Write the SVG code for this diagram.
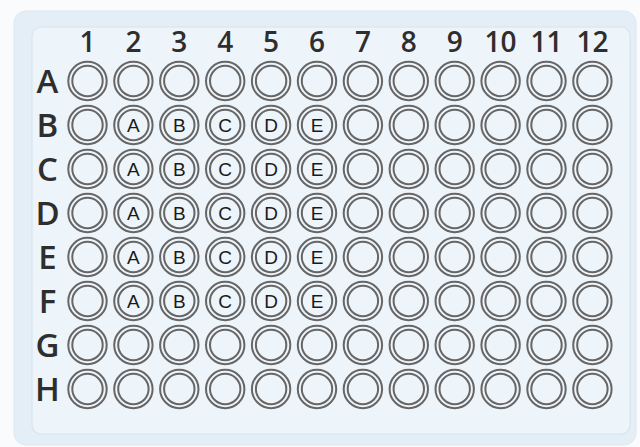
<svg xmlns="http://www.w3.org/2000/svg" width="640" height="447" viewBox="0 0 640 447">
<style>
.bg{fill:#fafbfc}
.outer{fill:#e4eef7;stroke:#dde8f1;stroke-width:1}
.inner{fill:#edf4fa;stroke:#d8e4ee;stroke-width:1.2}
.ring{fill:none;stroke:#666;stroke-width:2}
.col{font-family:"Open Sans","Noto Sans",sans-serif;font-weight:600;font-size:28px;fill:#2e2e2e;text-anchor:middle}
.row{font-family:"Open Sans","Noto Sans",sans-serif;font-weight:600;font-size:33px;fill:#2e2e2e;text-anchor:middle}
.lbl{font-family:"Liberation Sans","Noto Sans",sans-serif;font-size:19px;fill:#1a1a1a;text-anchor:middle}
</style>
<defs>
<g id="well"><circle r="19.2" class="ring"/><circle r="15.2" class="ring"/></g>
</defs>
<rect class="bg" x="0" y="0" width="640" height="447"/>
<rect class="outer" x="14" y="11" width="622" height="434" rx="12"/>
<rect class="inner" x="32" y="27" width="598" height="407" rx="9"/>
<g id="col-labels">
<text class="col" x="87.5" y="52">1</text>
<text class="col" x="133.4" y="52">2</text>
<text class="col" x="179.3" y="52">3</text>
<text class="col" x="225.2" y="52">4</text>
<text class="col" x="271.1" y="52">5</text>
<text class="col" x="317" y="52">6</text>
<text class="col" x="362.9" y="52">7</text>
<text class="col" x="408.8" y="52">8</text>
<text class="col" x="454.7" y="52">9</text>
<text class="col" x="500.6" y="52">10</text>
<text class="col" x="546.5" y="52">11</text>
<text class="col" x="592.4" y="52">12</text>
</g>
<g id="row-labels">
<text class="row" x="47.5" y="92.5">A</text>
<text class="row" x="47.5" y="136.5">B</text>
<text class="row" x="47.5" y="180.5">C</text>
<text class="row" x="47.5" y="224.5">D</text>
<text class="row" x="47.5" y="268.5">E</text>
<text class="row" x="47.5" y="312.5">F</text>
<text class="row" x="47.5" y="356.5">G</text>
<text class="row" x="47.5" y="400.5">H</text>
</g>
<g id="wells">
<g id="row-A">
<use href="#well" x="87.5" y="81"/><use href="#well" x="133.4" y="81"/><use href="#well" x="179.3" y="81"/><use href="#well" x="225.2" y="81"/><use href="#well" x="271.1" y="81"/><use href="#well" x="317" y="81"/><use href="#well" x="362.9" y="81"/><use href="#well" x="408.8" y="81"/><use href="#well" x="454.7" y="81"/><use href="#well" x="500.6" y="81"/><use href="#well" x="546.5" y="81"/><use href="#well" x="592.4" y="81"/>
</g>
<g id="row-B">
<use href="#well" x="87.5" y="125"/><use href="#well" x="133.4" y="125"/><use href="#well" x="179.3" y="125"/><use href="#well" x="225.2" y="125"/><use href="#well" x="271.1" y="125"/><use href="#well" x="317" y="125"/><use href="#well" x="362.9" y="125"/><use href="#well" x="408.8" y="125"/><use href="#well" x="454.7" y="125"/><use href="#well" x="500.6" y="125"/><use href="#well" x="546.5" y="125"/><use href="#well" x="592.4" y="125"/>
<text class="lbl" x="133.4" y="131.8">A</text><text class="lbl" x="179.3" y="131.8">B</text><text class="lbl" x="225.2" y="131.8">C</text><text class="lbl" x="271.1" y="131.8">D</text><text class="lbl" x="317" y="131.8">E</text>
</g>
<g id="row-C">
<use href="#well" x="87.5" y="169"/><use href="#well" x="133.4" y="169"/><use href="#well" x="179.3" y="169"/><use href="#well" x="225.2" y="169"/><use href="#well" x="271.1" y="169"/><use href="#well" x="317" y="169"/><use href="#well" x="362.9" y="169"/><use href="#well" x="408.8" y="169"/><use href="#well" x="454.7" y="169"/><use href="#well" x="500.6" y="169"/><use href="#well" x="546.5" y="169"/><use href="#well" x="592.4" y="169"/>
<text class="lbl" x="133.4" y="175.8">A</text><text class="lbl" x="179.3" y="175.8">B</text><text class="lbl" x="225.2" y="175.8">C</text><text class="lbl" x="271.1" y="175.8">D</text><text class="lbl" x="317" y="175.8">E</text>
</g>
<g id="row-D">
<use href="#well" x="87.5" y="213"/><use href="#well" x="133.4" y="213"/><use href="#well" x="179.3" y="213"/><use href="#well" x="225.2" y="213"/><use href="#well" x="271.1" y="213"/><use href="#well" x="317" y="213"/><use href="#well" x="362.9" y="213"/><use href="#well" x="408.8" y="213"/><use href="#well" x="454.7" y="213"/><use href="#well" x="500.6" y="213"/><use href="#well" x="546.5" y="213"/><use href="#well" x="592.4" y="213"/>
<text class="lbl" x="133.4" y="219.8">A</text><text class="lbl" x="179.3" y="219.8">B</text><text class="lbl" x="225.2" y="219.8">C</text><text class="lbl" x="271.1" y="219.8">D</text><text class="lbl" x="317" y="219.8">E</text>
</g>
<g id="row-E">
<use href="#well" x="87.5" y="257"/><use href="#well" x="133.4" y="257"/><use href="#well" x="179.3" y="257"/><use href="#well" x="225.2" y="257"/><use href="#well" x="271.1" y="257"/><use href="#well" x="317" y="257"/><use href="#well" x="362.9" y="257"/><use href="#well" x="408.8" y="257"/><use href="#well" x="454.7" y="257"/><use href="#well" x="500.6" y="257"/><use href="#well" x="546.5" y="257"/><use href="#well" x="592.4" y="257"/>
<text class="lbl" x="133.4" y="263.8">A</text><text class="lbl" x="179.3" y="263.8">B</text><text class="lbl" x="225.2" y="263.8">C</text><text class="lbl" x="271.1" y="263.8">D</text><text class="lbl" x="317" y="263.8">E</text>
</g>
<g id="row-F">
<use href="#well" x="87.5" y="301"/><use href="#well" x="133.4" y="301"/><use href="#well" x="179.3" y="301"/><use href="#well" x="225.2" y="301"/><use href="#well" x="271.1" y="301"/><use href="#well" x="317" y="301"/><use href="#well" x="362.9" y="301"/><use href="#well" x="408.8" y="301"/><use href="#well" x="454.7" y="301"/><use href="#well" x="500.6" y="301"/><use href="#well" x="546.5" y="301"/><use href="#well" x="592.4" y="301"/>
<text class="lbl" x="133.4" y="307.8">A</text><text class="lbl" x="179.3" y="307.8">B</text><text class="lbl" x="225.2" y="307.8">C</text><text class="lbl" x="271.1" y="307.8">D</text><text class="lbl" x="317" y="307.8">E</text>
</g>
<g id="row-G">
<use href="#well" x="87.5" y="345"/><use href="#well" x="133.4" y="345"/><use href="#well" x="179.3" y="345"/><use href="#well" x="225.2" y="345"/><use href="#well" x="271.1" y="345"/><use href="#well" x="317" y="345"/><use href="#well" x="362.9" y="345"/><use href="#well" x="408.8" y="345"/><use href="#well" x="454.7" y="345"/><use href="#well" x="500.6" y="345"/><use href="#well" x="546.5" y="345"/><use href="#well" x="592.4" y="345"/>
</g>
<g id="row-H">
<use href="#well" x="87.5" y="389"/><use href="#well" x="133.4" y="389"/><use href="#well" x="179.3" y="389"/><use href="#well" x="225.2" y="389"/><use href="#well" x="271.1" y="389"/><use href="#well" x="317" y="389"/><use href="#well" x="362.9" y="389"/><use href="#well" x="408.8" y="389"/><use href="#well" x="454.7" y="389"/><use href="#well" x="500.6" y="389"/><use href="#well" x="546.5" y="389"/><use href="#well" x="592.4" y="389"/>
</g>
</g>
</svg>
